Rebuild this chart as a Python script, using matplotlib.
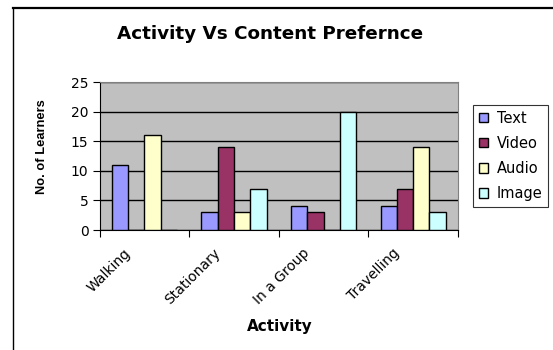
import numpy as np
import matplotlib.pyplot as plt
from matplotlib.lines import Line2D
from matplotlib.transforms import ScaledTranslation

activities = ['Walking', 'Stationary', 'In a Group', 'Travelling']
series = ['Text', 'Video', 'Audio', 'Image']
text_vals = [11, 3, 4, 4]
video_vals = [0, 14, 3, 7]
audio_vals = [16, 3, 0, 14]
image_vals = [0, 7, 20, 3]
colors = ['#9999FF', '#993366', '#FFFFCC', '#CCFFFF']

W, H = 553, 350
fig = plt.figure(figsize=(W / 100, H / 100), dpi=100)
fig.patch.set_facecolor('white')

# plot area in pixels: left 99.5, right 458, top 82, bottom 230
ax = fig.add_axes([99.5 / W, 1 - 230 / H, (458 - 99.5) / W, (230 - 82) / H])
ax.set_facecolor('#C0C0C0')

x = np.arange(len(activities))
bw = 1 / 5.5
data = [text_vals, video_vals, audio_vals, image_vals]
for i, (name, vals) in enumerate(zip(series, data)):
    pos = x - 0.5 + 0.75 * bw + (i + 0.5) * bw
    ax.bar(pos, vals, width=bw, color=colors[i], edgecolor='black',
           linewidth=1.0, label=name, zorder=3)

ax.set_xlim(-0.5, len(activities) - 0.5)
ax.set_ylim(0, 25)
ax.set_yticks(range(0, 26, 5))
ax.yaxis.grid(True, color='black', linewidth=1.0, zorder=1)
ax.set_axisbelow(True)

# ticks sit between categories, labels are placed separately
ax.set_xticks(np.arange(-0.5, len(activities)))
ax.set_xticklabels([])
ax.tick_params(axis='x', length=5, direction='out', color='black')
ax.tick_params(axis='y', length=5, direction='out', labelsize=10, pad=3)

shift = ScaledTranslation(-16 / 100, -21 / 100, fig.dpi_scale_trans)
for xi, name in zip(x, activities):
    ax.text(xi, 0, name, transform=ax.get_xaxis_transform() + shift,
            rotation=45, ha='right', va='center', rotation_mode='anchor',
            fontsize=10)

for side in ['top', 'right']:
    ax.spines[side].set_color('#808080')
ax.spines['left'].set_color('black')
ax.spines['bottom'].set_color('black')

fig.text(270 / W, 1 - 34 / H, 'Activity Vs Content Prefernce', ha='center',
         va='center', fontsize=13.2, fontweight='bold')
fig.text(279.5 / W, 1 - 326 / H, 'Activity', ha='center', va='center',
         fontsize=11, fontweight='bold')
fig.text(42 / W, 1 - 146.5 / H, 'No. of Learners', ha='center', va='center',
         rotation=90, fontsize=9.3, fontweight='bold', family='Liberation Sans')

leg = fig.legend(loc='upper left', bbox_to_anchor=(473 / W, 1 - 105 / H),
                 frameon=True, fancybox=False, edgecolor='black',
                 prop={'size': 10.5},
                 handlelength=0.65, handleheight=0.65, handletextpad=0.6,
                 borderpad=0.38, labelspacing=0.7, borderaxespad=0)
leg.get_frame().set_linewidth(0.8)

# outer chart frame (top and left edges only visible)
fig.add_artist(Line2D([12.5 / W, 1], [1 - 8 / H, 1 - 8 / H], color='black',
                      linewidth=1.6, transform=fig.transFigure))
fig.add_artist(Line2D([12.5 / W, 12.5 / W], [1 - 8 / H, 0], color='black',
                      linewidth=1.0, transform=fig.transFigure))

fig.savefig('out.png', dpi=100)
